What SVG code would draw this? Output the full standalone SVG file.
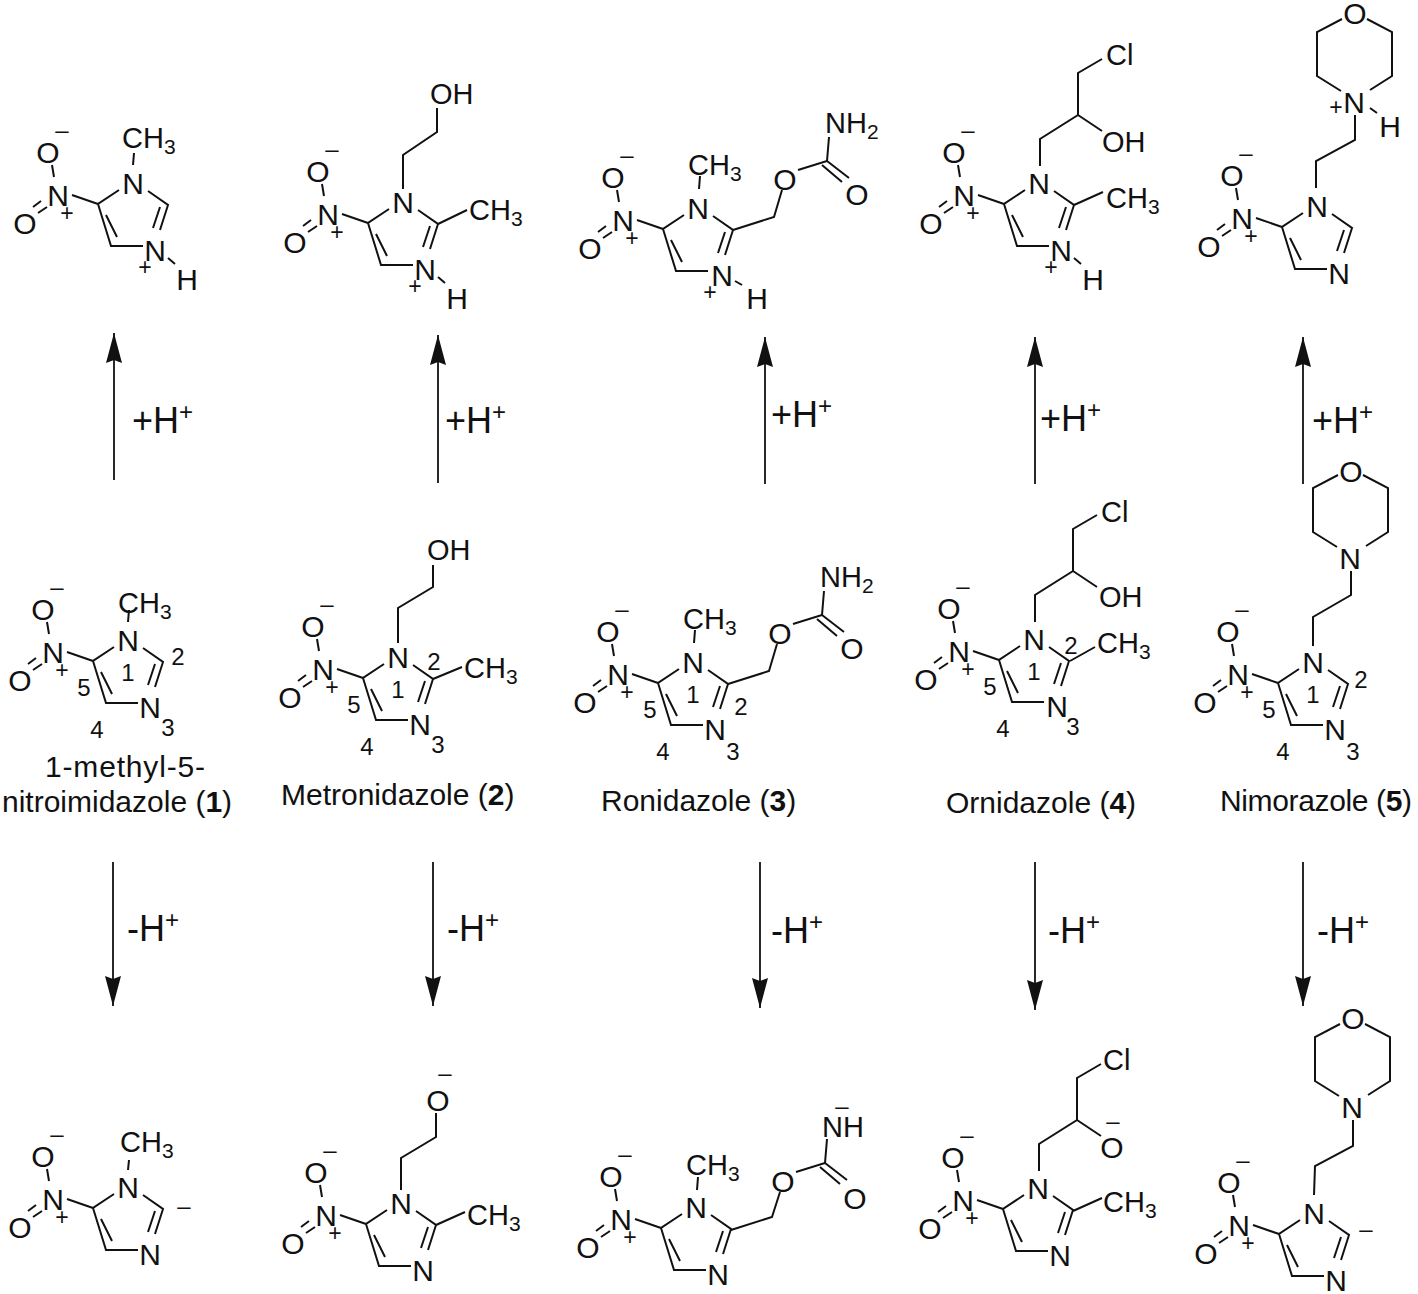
<svg xmlns="http://www.w3.org/2000/svg" width="1418" height="1294" viewBox="0 0 1418 1294">
<style>
text{font-family:"Liberation Sans",Arial,sans-serif;fill:#111}
.a{font-size:30px;text-anchor:middle}
.s{font-size:29px}
.sub{font-size:21px}
.n{font-size:24px;text-anchor:middle}
.c{font-size:30px}
.p{font-size:23px;text-anchor:middle}
.m{font-size:24px;text-anchor:middle}
.l{font-size:36px}
.sup{font-size:24px}
.b{fill:none;stroke:#111;stroke-width:2;stroke-linejoin:miter}
.ar{fill:none;stroke:#111;stroke-width:1.8}
</style>
<defs>
<marker id="h" markerUnits="userSpaceOnUse" markerWidth="32" markerHeight="20" refX="30" refY="8" orient="auto"><path d="M0 0L30 8L0 16L3 8Z" fill="#111"/></marker>
<path id="ring" class="b" d="M-14 7L-35 21L-22 63L10 63M-27 32L-16 54M27 47L35 22L15 8M20 45L27 24M-35 21L-61 12M-81 -18L-79 -6M-95 30L-86 24M-100 24L-92 18"/>
<path id="morph" class="b" d="M-13 -11L-37 -26L-37 -70L-12 -83M13 -83L38 -70L38 -26L16 -12"/>
</defs>
<rect width="1418" height="1294" fill="#fff"/>
<g id="connectors">
<path class="ar" marker-end="url(#h)" d="M114 480V333"/>
<path class="ar" marker-end="url(#h)" d="M438 483V335"/>
<path class="ar" marker-end="url(#h)" d="M765 484V337"/>
<path class="ar" marker-end="url(#h)" d="M1035 484V337"/>
<path class="ar" marker-end="url(#h)" d="M1303 484V337"/>
<path class="ar" marker-end="url(#h)" d="M113 862V1006"/>
<path class="ar" marker-end="url(#h)" d="M433 862V1006"/>
<path class="ar" marker-end="url(#h)" d="M760 862V1008"/>
<path class="ar" marker-end="url(#h)" d="M1035 862V1010"/>
<path class="ar" marker-end="url(#h)" d="M1303 862V1006"/>
<text class="l" x="132" y="433">+H<tspan class="sup" dy="-13">+</tspan></text>
<text class="l" x="445" y="433">+H<tspan class="sup" dy="-13">+</tspan></text>
<text class="l" x="771" y="427">+H<tspan class="sup" dy="-13">+</tspan></text>
<text class="l" x="1040" y="431">+H<tspan class="sup" dy="-13">+</tspan></text>
<text class="l" x="1312" y="433">+H<tspan class="sup" dy="-13">+</tspan></text>
<text class="l" x="127" y="941">-H<tspan class="sup" dy="-13">+</tspan></text>
<text class="l" x="447" y="941">-H<tspan class="sup" dy="-13">+</tspan></text>
<text class="l" x="771" y="943">-H<tspan class="sup" dy="-13">+</tspan></text>
<text class="l" x="1048" y="943">-H<tspan class="sup" dy="-13">+</tspan></text>
<text class="l" x="1317" y="943">-H<tspan class="sup" dy="-13">+</tspan></text>
</g>

<g id="top1"><g transform="translate(133,183)"><use href="#ring"/><text class="a" y="11">N</text><text class="a" x="-75" y="23">N</text><text class="a" x="-85" y="-20">O</text><text class="a" x="-108" y="51">O</text><text class="m" x="-71" y="-45">–</text><text class="p" x="-66" y="38">+</text><text class="a" x="22" y="78">N</text><text class="p" x="12" y="92">+</text><text class="a" x="54" y="107">H</text><path class="b" d="M35 75L42 81M1 -30L0 -18"/></g><text class="s" x="122" y="148">CH<tspan class="sub" dy="6">3</tspan></text></g>

<g id="top2"><g transform="translate(403,202)"><use href="#ring"/><text class="a" y="11">N</text><text class="a" x="-75" y="23">N</text><text class="a" x="-85" y="-20">O</text><text class="a" x="-108" y="51">O</text><text class="m" x="-71" y="-45">–</text><text class="p" x="-66" y="38">+</text><text class="a" x="22" y="78">N</text><text class="p" x="12" y="92">+</text><text class="a" x="54" y="107">H</text><path class="b" d="M35 75L42 81"/></g><path class="b" d="M403 189V155L437 132V108M438 224L467 210"/><text class="s" x="430" y="104">OH</text><text class="s" x="469" y="220">CH<tspan class="sub" dy="6">3</tspan></text></g>

<g id="top3"><g transform="translate(698,208)"><use href="#ring"/><text class="a" y="11">N</text><text class="a" x="-75" y="23">N</text><text class="a" x="-85" y="-20">O</text><text class="a" x="-108" y="51">O</text><text class="m" x="-71" y="-45">–</text><text class="p" x="-66" y="38">+</text><text class="a" x="24" y="78">N</text><text class="p" x="12" y="92">+</text><text class="a" x="59" y="101">H</text><path class="b" d="M37 73L44 77"/></g><path class="b" d="M700 176L699 189M733 230L774 217L782 190M798 170L827 161L829 137M827 161L849 178M822 165L842 182"/><text class="s" x="688" y="175">CH<tspan class="sub" dy="6">3</tspan></text><text class="a" x="785" y="190">O</text><text class="s" x="825" y="133">NH<tspan class="sub" dy="6">2</tspan></text><text class="a" x="857" y="205">O</text></g>

<g id="top4"><g transform="translate(1039,183)"><use href="#ring"/><text class="a" y="11">N</text><text class="a" x="-75" y="23">N</text><text class="a" x="-85" y="-20">O</text><text class="a" x="-108" y="51">O</text><text class="m" x="-71" y="-45">–</text><text class="p" x="-66" y="38">+</text><text class="a" x="22" y="78">N</text><text class="p" x="12" y="92">+</text><text class="a" x="54" y="107">H</text><path class="b" d="M35 75L42 81"/></g><path class="b" d="M1040 166V139L1078 115V73L1102 59M1078 115L1102 131M1074 205L1103 192"/><text class="s" x="1106" y="65">Cl</text><text class="s" x="1102" y="152">OH</text><text class="s" x="1106" y="208">CH<tspan class="sub" dy="6">3</tspan></text></g>

<g id="top5"><g transform="translate(1317,206)"><use href="#ring"/><text class="a" y="11">N</text><text class="a" x="-75" y="23">N</text><text class="a" x="-85" y="-20">O</text><text class="a" x="-108" y="51">O</text><text class="m" x="-71" y="-45">–</text><text class="p" x="-66" y="38">+</text><text class="a" x="22" y="78">N</text></g><use href="#morph" x="1354" y="102"/><path class="b" d="M1316 188V161L1355 140V115M1370 108L1377 113"/><text class="a" x="1355" y="24">O</text><text class="a" x="1354" y="113">N</text><text class="p" x="1336" y="115">+</text><text class="a" x="1390" y="137">H</text></g>

<g id="mid1"><g transform="translate(128,640)"><use href="#ring"/><text class="a" y="11">N</text><text class="a" x="-75" y="23">N</text><text class="a" x="-85" y="-20">O</text><text class="a" x="-108" y="51">O</text><text class="m" x="-71" y="-45">–</text><text class="p" x="-66" y="38">+</text><text class="a" x="22" y="78">N</text><text class="n" y="41">1</text><text class="n" x="50" y="25">2</text><text class="n" x="40" y="96">3</text><text class="n" x="-31" y="98">4</text><text class="n" x="-44" y="56">5</text><path class="b" d="M1 -30L0 -18"/></g><text class="s" x="118" y="613">CH<tspan class="sub" dy="6">3</tspan></text><text class="c" x="45" y="777" textLength="160">1-methyl-5-</text><text class="c" x="2" y="812">nitroimidazole (<tspan font-weight="700">1</tspan>)</text></g>

<g id="mid2"><g transform="translate(398,657)"><use href="#ring"/><text class="a" y="11">N</text><text class="a" x="-75" y="23">N</text><text class="a" x="-85" y="-20">O</text><text class="a" x="-108" y="51">O</text><text class="m" x="-71" y="-45">–</text><text class="p" x="-66" y="38">+</text><text class="a" x="22" y="78">N</text><text class="n" y="41">1</text><text class="n" x="36" y="13">2</text><text class="n" x="40" y="96">3</text><text class="n" x="-31" y="98">4</text><text class="n" x="-44" y="56">5</text></g><path class="b" d="M398 643V608L433 587V565M433 679L462 667"/><text class="s" x="427" y="560">OH</text><text class="s" x="464" y="678">CH<tspan class="sub" dy="6">3</tspan></text><text class="c" x="281" y="805">Metronidazole (<tspan font-weight="700">2</tspan>)</text></g>

<g id="mid3"><g transform="translate(693,662)"><use href="#ring"/><text class="a" y="11">N</text><text class="a" x="-75" y="23">N</text><text class="a" x="-85" y="-20">O</text><text class="a" x="-108" y="51">O</text><text class="m" x="-71" y="-45">–</text><text class="p" x="-66" y="38">+</text><text class="a" x="22" y="78">N</text><text class="n" y="41">1</text><text class="n" x="48" y="53">2</text><text class="n" x="40" y="98">3</text><text class="n" x="-30" y="98">4</text><text class="n" x="-43" y="56">5</text></g><path class="b" d="M695 630L694 643M728 684L769 671L777 644M793 624L822 615L824 591M822 615L844 632M817 619L837 636"/><text class="s" x="683" y="629">CH<tspan class="sub" dy="6">3</tspan></text><text class="a" x="780" y="644">O</text><text class="s" x="820" y="587">NH<tspan class="sub" dy="6">2</tspan></text><text class="a" x="852" y="659">O</text><text class="c" x="601" y="811">Ronidazole (<tspan font-weight="700">3</tspan>)</text></g>

<g id="mid4"><g transform="translate(1034,639)"><use href="#ring"/><text class="a" y="11">N</text><text class="a" x="-75" y="23">N</text><text class="a" x="-85" y="-20">O</text><text class="a" x="-108" y="51">O</text><text class="m" x="-71" y="-45">–</text><text class="p" x="-66" y="38">+</text><text class="a" x="23" y="78">N</text><text class="n" y="41">1</text><text class="n" x="37" y="15">2</text><text class="n" x="39" y="96">3</text><text class="n" x="-31" y="98">4</text><text class="n" x="-44" y="56">5</text></g><path class="b" d="M1035 622V595L1073 571V529L1097 515M1073 571L1097 587M1070 661L1095 647"/><text class="s" x="1101" y="522">Cl</text><text class="s" x="1099" y="607">OH</text><text class="s" x="1097" y="653">CH<tspan class="sub" dy="6">3</tspan></text><text class="c" x="946" y="813">Ornidazole (<tspan font-weight="700">4</tspan>)</text></g>

<g id="mid5"><g transform="translate(1313,662)"><use href="#ring"/><text class="a" y="11">N</text><text class="a" x="-75" y="23">N</text><text class="a" x="-85" y="-20">O</text><text class="a" x="-108" y="51">O</text><text class="m" x="-71" y="-45">–</text><text class="p" x="-66" y="38">+</text><text class="a" x="22" y="78">N</text><text class="n" y="41">1</text><text class="n" x="48" y="26">2</text><text class="n" x="40" y="98">3</text><text class="n" x="-30" y="98">4</text><text class="n" x="-44" y="56">5</text></g><use href="#morph" x="1350" y="558"/><path class="b" d="M1313 646V617L1351 595V571"/><text class="a" x="1351" y="482">O</text><text class="a" x="1350" y="569">N</text><text class="c" x="1220" y="811" textLength="192">Nimorazole (<tspan font-weight="700">5</tspan>)</text></g>

<g id="bot1"><g transform="translate(128,1187)"><use href="#ring"/><text class="a" y="11">N</text><text class="a" x="-75" y="23">N</text><text class="a" x="-85" y="-20">O</text><text class="a" x="-108" y="51">O</text><text class="m" x="-71" y="-45">–</text><text class="p" x="-66" y="38">+</text><text class="a" x="22" y="78">N</text><text class="m" x="56" y="27">–</text><path class="b" d="M1 -27L0 -17"/></g><text class="s" x="120" y="1152">CH<tspan class="sub" dy="6">3</tspan></text></g>

<g id="bot2"><g transform="translate(401,1203)"><use href="#ring"/><text class="a" y="11">N</text><text class="a" x="-75" y="23">N</text><text class="a" x="-85" y="-20">O</text><text class="a" x="-108" y="51">O</text><text class="m" x="-71" y="-45">–</text><text class="p" x="-66" y="38">+</text><text class="a" x="22" y="78">N</text></g><path class="b" d="M401 1190V1158L436 1137V1113M436 1225L465 1212"/><text class="a" x="438" y="1111">O</text><text class="m" x="445" y="1081">–</text><text class="s" x="467" y="1225">CH<tspan class="sub" dy="6">3</tspan></text></g>

<g id="bot3"><g transform="translate(696,1207)"><use href="#ring"/><text class="a" y="11">N</text><text class="a" x="-75" y="23">N</text><text class="a" x="-85" y="-20">O</text><text class="a" x="-108" y="51">O</text><text class="m" x="-71" y="-45">–</text><text class="p" x="-66" y="38">+</text><text class="a" x="22" y="78">N</text></g><path class="b" d="M698 1177L697 1190M731 1230L772 1217L780 1192M796 1172L825 1163L827 1139M825 1163L847 1180M820 1167L840 1184"/><text class="s" x="686" y="1175">CH<tspan class="sub" dy="6">3</tspan></text><text class="a" x="783" y="1192">O</text><text class="s" x="822" y="1137">NH</text><text class="m" x="842" y="1114">–</text><text class="a" x="855" y="1209">O</text></g>

<g id="bot4"><g transform="translate(1038,1188)"><use href="#ring"/><text class="a" y="11">N</text><text class="a" x="-75" y="23">N</text><text class="a" x="-85" y="-20">O</text><text class="a" x="-108" y="51">O</text><text class="m" x="-71" y="-45">–</text><text class="p" x="-66" y="38">+</text><text class="a" x="22" y="78">N</text></g><path class="b" d="M1039 1171V1144L1077 1120V1078L1101 1064M1077 1120L1101 1136M1073 1211L1102 1198"/><text class="s" x="1103" y="1070">Cl</text><text class="a" x="1112" y="1158">O</text><text class="m" x="1113" y="1129">–</text><text class="s" x="1103" y="1212">CH<tspan class="sub" dy="6">3</tspan></text></g>

<g id="bot5"><g transform="translate(1314,1213)"><use href="#ring"/><text class="a" y="11">N</text><text class="a" x="-75" y="23">N</text><text class="a" x="-85" y="-20">O</text><text class="a" x="-108" y="51">O</text><text class="m" x="-71" y="-45">–</text><text class="p" x="-66" y="38">+</text><text class="a" x="22" y="78">N</text><text class="m" x="52" y="24">–</text></g><use href="#morph" x="1352" y="1107"/><path class="b" d="M1314 1195L1315 1166L1353 1146V1120"/><text class="a" x="1353" y="1029">O</text><text class="a" x="1352" y="1118">N</text></g>
</svg>
